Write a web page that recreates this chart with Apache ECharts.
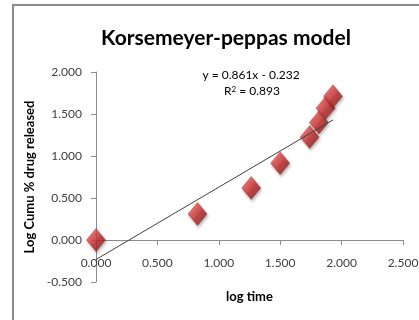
<!DOCTYPE html>
<html>
<head>
<meta charset="utf-8">
<style>
  html, body { margin: 0; padding: 0; background: #fff; }
  #chart { width: 419px; height: 320px; }
</style>
<script src="https://cdn.jsdelivr.net/npm/echarts@6/dist/echarts.min.js"></script>
</head>
<body>
<div id="chart"></div>
<script>
// Release data: log time vs log cumulative % drug released
const logTime = [0.000, 0.827, 1.264, 1.500, 1.740, 1.815, 1.870, 1.930];
const logCumRelease = [0.000, 0.310, 0.620, 0.915, 1.225, 1.400, 1.570, 1.710];

// Linear fit reported on the chart
const fitSlope = 0.861;
const fitIntercept = -0.232;
const fitR2 = 0.893;

const xTicks = [0, 0.5, 1.0, 1.5, 2.0, 2.5];
const yTicks = [-0.5, 0, 0.5, 1.0, 1.5, 2.0];

const points = logTime.map((x, i) => [x, logCumRelease[i]]);
const xMinData = Math.min(...logTime);
const xMaxData = Math.max(...logTime);
const trend = [
  [xMinData, fitSlope * xMinData + fitIntercept],
  [xMaxData, fitSlope * xMaxData + fitIntercept]
];

const font = 'Lato';
const tickColor = '#404040';
const axisGray = '#8c8c8c';

// Plot area and the shift that puts the x axis on y = 0
const gridBox = { left: 96, right: 16, top: 72, bottom: 38 };
const plotHeight = 320 - gridBox.top - gridBox.bottom;
const yMin = yTicks[0];
const yMax = yTicks[yTicks.length - 1];
const xAxisShift = -plotHeight * (0 - yMin) / (yMax - yMin);

const chart = echarts.init(document.getElementById('chart'));
chart.setOption({
  animation: false,
  backgroundColor: '#fff',
  title: {
    text: 'Korsemeyer-peppas model',
    left: 221,
    textAlign: 'center',
    top: 23,
    textStyle: { fontFamily: font, fontWeight: 'bold', fontSize: 21, color: '#000' }
  },
  graphic: [
    {
      type: 'rect',
      shape: { x: 13, y: 5, width: 420, height: 330 },
      style: { fill: 'none', stroke: '#8a8a8a', lineWidth: 2 },
      silent: true
    },
    {
      type: 'text',
      x: 251,
      y: 75,
      style: {
        text: 'y = ' + fitSlope.toFixed(3) + 'x - ' + Math.abs(fitIntercept).toFixed(3),
        font: '12px ' + font,
        fill: '#000',
        align: 'center',
        verticalAlign: 'middle'
      }
    },
    {
      type: 'text',
      x: 252,
      y: 91,
      style: {
        rich: {
          n: { fontSize: 12, fontFamily: font },
          s: { fontSize: 8, fontFamily: font, verticalAlign: 'top', lineHeight: 8 }
        },
        text: '{n|R}{s|2}{n| = ' + fitR2.toFixed(3) + '}',
        fill: '#000',
        align: 'center',
        verticalAlign: 'middle'
      }
    }
  ],
  grid: Object.assign({ containLabel: false, outerBoundsMode: 'none' }, gridBox),
  xAxis: {
    type: 'value',
    min: xTicks[0],
    max: xTicks[xTicks.length - 1],
    interval: 0.5,
    position: 'bottom',
    offset: xAxisShift,
    name: 'log time',
    nameLocation: 'middle',
    nameGap: 50,
    nameTextStyle: { fontFamily: font, fontWeight: 'bold', fontSize: 13, color: '#000' },
    axisLine: { onZero: false, lineStyle: { color: axisGray, width: 1 } },
    axisTick: { show: true, inside: false, length: 5, lineStyle: { color: axisGray } },
    axisLabel: {
      margin: 17,
      color: tickColor,
      fontFamily: font,
      fontSize: 12,
      formatter: v => v.toFixed(3)
    },
    splitLine: { show: false }
  },
  yAxis: {
    type: 'value',
    min: yMin,
    max: yMax,
    interval: 0.5,
    name: 'Log Cumu % drug released',
    nameLocation: 'middle',
    nameGap: 58,
    nameRotate: 90,
    nameTextStyle: { fontFamily: font, fontWeight: 'bold', fontSize: 13, color: '#000' },
    axisLine: { show: true, onZero: true, lineStyle: { color: axisGray, width: 1 } },
    axisTick: { show: true, inside: false, length: 5, lineStyle: { color: axisGray } },
    axisLabel: {
      margin: 14,
      color: tickColor,
      fontFamily: font,
      fontSize: 12,
      formatter: v => v.toFixed(3)
    },
    splitLine: { show: false }
  },
  series: [
    {
      type: 'line',
      data: trend,
      symbol: 'none',
      lineStyle: { color: '#404040', width: 1 },
      z: 3
    },
    {
      type: 'scatter',
      data: points,
      symbol: 'diamond',
      symbolSize: [19, 23],
      itemStyle: {
        color: new echarts.graphic.LinearGradient(0, 0, 1, 1, [
          { offset: 0, color: '#f06a6a' },
          { offset: 0.45, color: '#d83c3c' },
          { offset: 0.55, color: '#bb2626' },
          { offset: 1, color: '#901818' }
        ]),
        borderColor: '#a02020',
        borderWidth: 0.5,
        shadowColor: 'rgba(0,0,0,0.35)',
        shadowBlur: 3,
        shadowOffsetX: 1,
        shadowOffsetY: 2
      },
      z: 2
    }
  ]
});
</script>
</body>
</html>
